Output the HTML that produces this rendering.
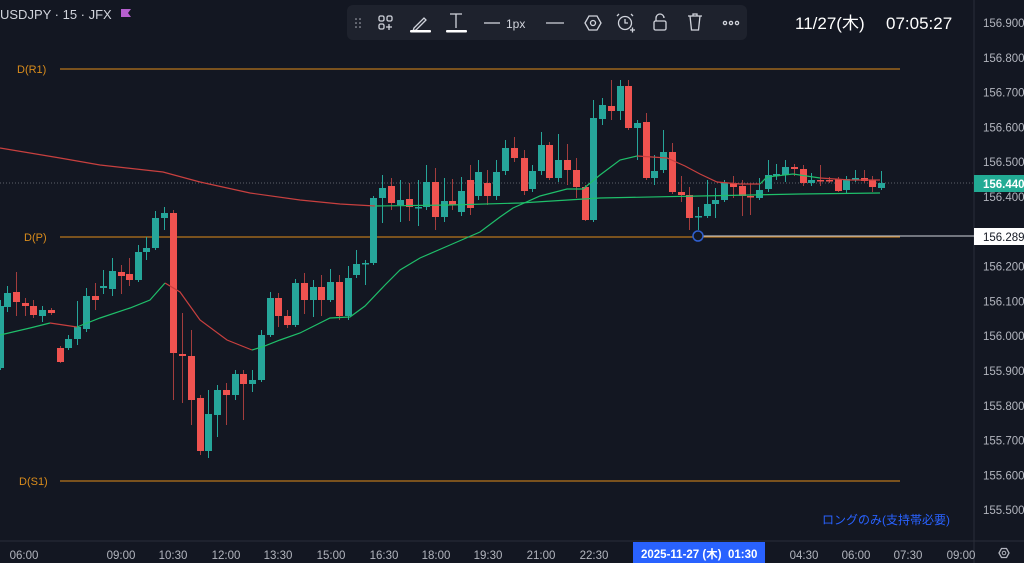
<!DOCTYPE html>
<html><head><meta charset="utf-8"><style>
html,body{margin:0;padding:0;background:#131722;width:1024px;height:563px;overflow:hidden}
svg{display:block}
text{font-family:"Liberation Sans","Noto Sans CJK JP",sans-serif}
</style></head><body>
<svg id="s" width="1024" height="563" xmlns="http://www.w3.org/2000/svg">
<rect width="1024" height="563" fill="#131722"/>
<line x1="974" y1="0" x2="974" y2="563" stroke="#2a2e39"/>
<line x1="0" y1="541" x2="1024" y2="541" stroke="#2a2e39"/>
<line x1="0" y1="183" x2="974" y2="183" stroke="#5d606b" stroke-dasharray="1,2"/>
<line x1="60" y1="69" x2="900" y2="69" stroke="#b8761c" stroke-width="1.2"/>
<line x1="60" y1="237" x2="900" y2="237" stroke="#b8761c" stroke-width="1.2"/>
<line x1="60" y1="481" x2="900" y2="481" stroke="#b8761c" stroke-width="1.2"/>
<g fill="#d98c1c" font-size="11">
<text x="17" y="73">D(R1)</text>
<text x="24" y="241">D(P)</text>
<text x="19" y="485">D(S1)</text>
</g>
<line x1="703" y1="236" x2="974" y2="236" stroke="#d1d4dc"/>
<g id="c"></g>
<polyline fill="none" stroke="#c8403f" stroke-width="1.2" points="0,148 60,158 100,165 163,172 200,182 250,193 300,200 340,204 375,206"/>
<polyline fill="none" stroke="#1fbf6a" stroke-width="1.2" points="375,206 450,205 520,203 600,198 700,196 800,194 880,193"/>
<polyline fill="none" stroke="#1fbf6a" stroke-width="1.2" points="0,335 30,328 50,323"/>
<polyline fill="none" stroke="#c8403f" stroke-width="1.2" points="50,323 77,327"/>
<polyline fill="none" stroke="#1fbf6a" stroke-width="1.2" points="77,327 100,318 130,308 150,300 165,283"/>
<polyline fill="none" stroke="#c8403f" stroke-width="1.2" points="165,283 180,292 200,320 227,340 252,350"/>
<polyline fill="none" stroke="#1fbf6a" stroke-width="1.2" points="252,350 262,347 280,340 300,333 330,318 350,317 365,306 385,285 400,270 420,258 450,245 480,232 500,217 513,208 540,196 567,189 583,189 600,175 620,160 637,156"/>
<polyline fill="none" stroke="#c8403f" stroke-width="1.2" points="637,156 667,158 685,166 700,174 717,182 740,184 760,184"/>
<polyline fill="none" stroke="#1fbf6a" stroke-width="1.2" points="760,184 767,177 793,174 820,178"/>
<polyline fill="none" stroke="#c8403f" stroke-width="1.2" points="820,178 850,180 880,180"/>
<circle cx="698" cy="236" r="5" fill="#131722" stroke="#2f5fd0" stroke-width="1.5"/>
<g fill="#b2b5be" font-size="11.5" id="pa"></g>
<rect x="974" y="175" width="50" height="17" fill="#22ab94"/>
<text x="983" y="188" fill="#fff" font-size="11.5" font-weight="bold">156.440</text>
<rect x="974" y="228" width="50" height="17" fill="#fff"/>
<text x="983" y="241" fill="#131722" font-size="11.5">156.289</text>
<g fill="#b2b5be" font-size="11.5" text-anchor="middle">
<text x="24" y="559">06:00</text><text x="121" y="559">09:00</text><text x="173" y="559">10:30</text>
<text x="226" y="559">12:00</text><text x="278" y="559">13:30</text><text x="331" y="559">15:00</text>
<text x="384" y="559">16:30</text><text x="436" y="559">18:00</text><text x="488" y="559">19:30</text>
<text x="541" y="559">21:00</text><text x="594" y="559">22:30</text><text x="804" y="559">04:30</text>
<text x="856" y="559">06:00</text><text x="908" y="559">07:30</text><text x="961" y="559">09:00</text>
</g>
<rect x="633" y="542" width="132" height="21" fill="#2962ff"/>
<text x="641" y="558" fill="#fff" font-size="11.5" font-weight="bold">2025-11-27 (木)</text>
<text x="728" y="558" fill="#fff" font-size="11.5" font-weight="bold">01:30</text>
<polygon points="999,553 1001.5,548.5 1006.5,548.5 1009,553 1006.5,557.5 1001.5,557.5" fill="none" stroke="#b2b5be" stroke-width="1.3"/>
<circle cx="1004" cy="553" r="1.8" fill="none" stroke="#b2b5be"/>
<text x="822" y="524" fill="#2962ff" font-size="12">ロングのみ(支持帯必要)</text>
<text x="0" y="19" fill="#d1d4dc" font-size="13">USDJPY · 15 · JFX</text>
<polygon points="121,9 131,9 128,13 131,17 121,17" fill="#b65fcf"/>
<rect x="347" y="5" width="400" height="35" rx="6" fill="#1e222d"/>
<g fill="#b2b5be" stroke="none"><circle cx="356" cy="19" r="0.8"/><circle cx="360" cy="19" r="0.8"/><circle cx="356" cy="23" r="0.8"/><circle cx="360" cy="23" r="0.8"/><circle cx="356" cy="27" r="0.8"/><circle cx="360" cy="27" r="0.8"/></g>
<g fill="none" stroke="#d1d4dc" stroke-width="1.3">
<rect x="379" y="16" width="5" height="5" rx="1.5"/><rect x="387" y="16" width="5" height="5" rx="1.5"/><rect x="379" y="24" width="5" height="5" rx="1.5"/>
<path d="M389 24v6M386 27h6"/>
<path d="M414 28l10-10 2 2-10 10-3 1z"/>
<path d="M450 14h12M456 14v14"/>
<line x1="484" y1="23" x2="500" y2="23"/>
<line x1="546" y1="23" x2="564" y2="23"/>
<polygon points="585,23 589,16 597,16 601,23 597,30 589,30"/><circle cx="593" cy="23" r="2.5"/>
<circle cx="625" cy="23" r="6.5"/><path d="M625 19v4h3M619 14l-2 2M631 14l2 2M630 30h5M632.5 27.5v5"/>
<rect x="654" y="21" width="12" height="9" rx="1.5"/><path d="M656 21v-3a4 4 0 0 1 8 0"/>
<path d="M688 16h14M693 16v-2h4v2M690 16l1.5 14h7l1.5-14"/>
<circle cx="725" cy="23" r="1.6"/><circle cx="731" cy="23" r="1.6"/><circle cx="737" cy="23" r="1.6"/>
</g>
<rect x="410" y="30" width="21" height="2.5" rx="1" fill="#fff"/>
<rect x="446" y="30" width="21" height="2.5" rx="1" fill="#fff"/>
<text x="506" y="28" fill="#d1d4dc" font-size="12">1px</text>
<text x="795" y="29" fill="#fff" font-size="17">11/27(木)</text>
<text x="886" y="29" fill="#fff" font-size="17">07:05:27</text>
</svg>
<script>
var NS="http://www.w3.org/2000/svg";
var g=document.getElementById('c');
var C=[[0,306,368,1,300,370],[7,293,307,1,286,312],[16,292,302,0,272,316],[25,303,306,0,298,316],[33,306,315,0,300,318],[42,310,316,1,306,322],[51,310,313,0,308,315],[60,348,362,0,346,363],[68,339,348,1,335,350],[77,327,339,1,301,345],[86,296,329,1,288,332],[95,296,300,0,283,310],[103,286,288,1,270,294],[112,271,289,1,258,296],[121,272,276,0,265,294],[129,274,280,0,258,286],[138,252,280,1,245,282],[146,248,252,1,237,260],[155,218,248,1,211,250],[164,213,218,1,207,230],[173,213,353,0,210,400],[182,354,356,0,313,403],[191,356,400,0,330,425],[200,398,451,0,395,455],[208,414,451,1,390,458],[217,390,415,1,385,437],[226,390,395,0,383,425],[235,374,395,1,370,400],[243,374,384,0,370,420],[252,380,384,1,370,392],[261,335,380,1,330,382],[270,298,335,1,292,337],[278,298,316,0,293,327],[287,316,325,0,310,328],[295,283,325,1,279,327],[304,283,300,0,273,314],[313,287,300,1,280,317],[321,287,300,0,275,316],[330,282,300,1,269,302],[339,282,316,0,275,320],[348,278,316,1,266,320],[356,264,275,1,250,278],[365,263,264,1,260,285],[373,198,263,1,196,265],[382,188,198,1,175,223],[391,186,203,0,178,210],[400,200,205,1,180,222],[409,199,207,0,183,221],[418,207,208,1,180,226],[426,182,207,1,165,210],[435,182,217,0,168,230],[444,201,217,1,178,222],[452,201,205,0,179,210],[461,191,212,1,177,216],[470,180,208,0,165,215],[478,172,196,1,160,200],[487,183,196,0,170,205],[496,172,196,1,160,200],[505,148,171,1,140,175],[514,148,158,0,137,162],[524,158,191,0,150,195],[532,171,189,1,165,192],[541,145,171,1,132,175],[549,145,178,0,142,180],[558,160,178,1,134,182],[567,160,170,0,144,185],[576,170,187,0,158,198],[585,187,220,0,185,221],[593,118,220,1,100,222],[602,105,119,1,98,125],[611,106,111,0,80,120],[620,86,111,1,80,120],[628,86,128,0,80,130],[637,123,128,1,120,160],[646,122,178,0,113,180],[654,171,178,1,155,185],[663,152,170,1,130,173],[672,152,192,0,143,194],[681,192,195,0,176,202],[689,195,218,0,187,230],[698,216,217,1,207,230],[707,204,216,1,180,218],[715,200,204,1,188,218],[724,183,200,1,180,202],[733,183,187,0,176,198],[742,186,196,0,180,216],[750,196,197,0,183,215],[759,190,198,1,178,200],[768,175,189,1,160,192],[776,174,175,1,164,180],[785,167,175,1,160,182],[794,167,169,0,164,176],[803,169,183,0,165,186],[811,180,183,1,173,186],[820,180,181,0,165,186],[829,180,181,0,177,183],[838,179,191,0,177,192],[846,179,190,1,176,193],[855,178,179,1,170,182],[864,178,181,0,170,183],[872,180,187,0,176,192],[881,183,188,1,171,190]];
C.forEach(function(c){
 var col=c[3]?'#26a69a':'#ef5350';
 var l=document.createElementNS(NS,'line');
 l.setAttribute('x1',c[0]+0.5);l.setAttribute('x2',c[0]+0.5);l.setAttribute('y1',c[4]);l.setAttribute('y2',c[5]);
 l.setAttribute('stroke',c[3]?'#26a69a':'#a33d3d');g.appendChild(l);
 var r=document.createElementNS(NS,'rect');
 r.setAttribute('x',c[0]-3);r.setAttribute('y',c[1]);r.setAttribute('width',7);r.setAttribute('height',Math.max(1.5,c[2]-c[1]));
 r.setAttribute('fill',col);g.appendChild(r);
});
var pa=document.getElementById('pa');
for(var i=0;i<15;i++){
 var p=156.9-i*0.1; if(Math.abs(p-156.3)<0.01) continue;
 var y=23+i*34.8+4;
 var t=document.createElementNS(NS,'text');t.setAttribute('x',983);t.setAttribute('y',y);t.textContent=p.toFixed(3);pa.appendChild(t);
}
</script>
</body></html>
